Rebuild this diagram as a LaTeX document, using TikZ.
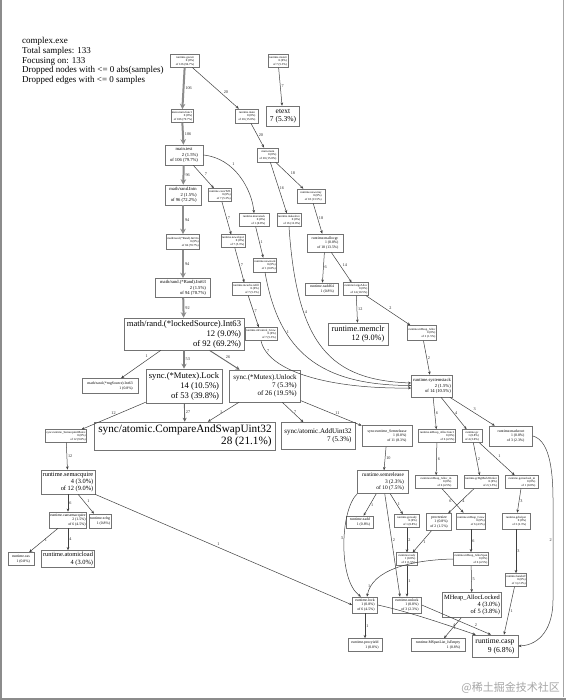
\documentclass[tikz,border=0pt]{standalone}
\usepackage{fontspec}
\setmainfont{Liberation Serif}
\newfontfamily\cjkfont{Noto Sans CJK SC}
\usetikzlibrary{arrows.meta}
\newcommand{\pplab}[2]{\begin{tabular}{@{}r@{}}\multicolumn{1}{@{}c@{}}{#1}\\#2\end{tabular}}
\tikzset{
 nd/.style={draw=black!55, line width=0.55pt, rectangle, inner sep=1pt},
 f0/.style={font=\fontsize{3}{3.5}\selectfont},
 f1/.style={font=\fontsize{3.8}{4.4}\selectfont},
 f2/.style={font=\fontsize{4.6}{5.4}\selectfont},
 ed/.style={draw=black!75, line width=0.5pt, -{Stealth[length=3.2pt,width=2.6pt]}},
 w1/.style={line width=2.0pt, draw=black!45, -{Stealth[length=5.5pt,width=5.5pt]}},
 w2/.style={line width=1.4pt, draw=black!50, -{Stealth[length=5pt,width=5pt]}},
 w3/.style={line width=0.9pt, draw=black!60, -{Stealth[length=4pt,width=4pt]}},
 lbl/.style={font=\fontsize{4.2}{4.2}\selectfont, inner sep=1pt, text=black!85},
}
\begin{document}
\begin{tikzpicture}[x=1pt,y=-1pt]
\useasboundingbox (0,0) rectangle (566,700);
\fill[white] (0,0) rectangle (566,700);
% frame
\draw[black!45, line width=2pt] (1,0) -- (1,700);
\draw[black!35, line width=1pt] (563,0) -- (563,697);
\draw[black!45, line width=2pt] (0,699) -- (566,699);
% header
\node[anchor=north west, align=left, inner sep=0pt, font=\fontsize{9}{9.8}\selectfont] (hdr) at (22,37)
 {complex.exe\\Total samples: 133\\Focusing on: 133\\Dropped nodes with <= 0 abs(samples)\\Dropped edges with <= 0 samples};
% nodes
\node[nd,f0,minimum width=29pt,minimum height=12pt] (goexit) at (185,61) {\pplab{runtime.goexit}{0 (0\%)\\of 126 (94.7\%)}};
\node[nd,f0,minimum width=16pt,minimum height=12pt] (mstart) at (278,61) {\pplab{runtime.mstart}{0 (0\%)\\of 7 (5.3\%)}};
\node[nd,f0,minimum width=22pt,minimum height=13pt] (mainfunc) at (182,116) {\pplab{main.main.func1}{0 (0\%)\\of 106 (79.7\%)}};
\node[nd,f0,minimum width=23pt,minimum height=14pt] (rtmain) at (247,116) {\pplab{runtime.main}{0 (0\%)\\of 20 (15.0\%)}};
\node[nd,minimum width=33pt,minimum height=20pt,font=\fontsize{7.5}{8.5}\selectfont] (etext) at (283,116) {\pplab{etext}{7 (5.3\%)}};
\node[nd,f2,minimum width=38pt,minimum height=20pt] (test) at (184,155) {\pplab{main.test}{2 (1.5\%)\\of 106 (79.7\%)}};
\node[nd,f0,minimum width=21pt,minimum height=14pt] (mainmain) at (268,155) {\pplab{main.main}{0 (0\%)\\of 20 (15.0\%)}};
\node[nd,f2,minimum width=36pt,minimum height=20pt] (randInt) at (183,195) {\pplab{math/rand.Intn}{2 (1.5\%)\\of 96 (72.2\%)}};
\node[nd,f0,minimum width=22pt,minimum height=13pt] (n220) at (220,195) {\pplab{runtime.convT2E}{0 (0\%)\\of 7 (5.3\%)}};
\node[nd,f0,minimum width=28pt,minimum height=14pt] (n311) at (311,196) {\pplab{runtime.newarray}{0 (0\%)\\of 18 (13.5\%)}};
\node[nd,f0,minimum width=30pt,minimum height=13pt] (n254) at (254,220) {\pplab{runtime.morestack}{0 (0\%)\\of 1 (0.8\%)}};
\node[nd,f0,minimum width=16pt,minimum height=13pt] (n289) at (289,220) {\pplab{runtime.makeslice}{0 (0\%)\\of 16 (12.0\%)}};
\node[nd,f0,minimum width=32pt,minimum height=15pt] (randIntn) at (183,242) {\pplab{math/rand.(*Rand).Int31n}{0 (0\%)\\of 94 (70.7\%)}};
\node[nd,f0,minimum width=18pt,minimum height=12pt] (n233) at (233,241) {\pplab{runtime.newobject}{0 (0\%)\\of 7 (5.3\%)}};
\node[nd,f1,minimum width=36pt,minimum height=18pt] (mallocgc) at (325,243) {\pplab{runtime.mallocgc}{1 (0.8\%)\\of 18 (13.5\%)}};
\node[nd,f0,minimum width=22pt,minimum height=14pt] (n265) at (265,265) {\pplab{runtime.newstack}{0 (0\%)\\of 1 (0.8\%)}};
\node[nd,f2,minimum width=55pt,minimum height=19pt] (int63) at (183,288) {\pplab{math/rand.(*Rand).Int63}{2 (1.5\%)\\of 94 (70.7\%)}};
\node[nd,f0,minimum width=22pt,minimum height=12pt] (n246) at (246,289) {\pplab{runtime.mcache.refill}{0 (0\%)\\of 7 (5.3\%)}};
\node[nd,f1,minimum width=33pt,minimum height=12pt] (xadd64) at (322,289) {\pplab{runtime.xadd64}{1 (0.8\%)}};
\node[nd,f0,minimum width=22pt,minimum height=12pt] (largeAlloc) at (356,289) {\pplab{runtime.largeAlloc}{0 (0\%)\\of 14 (10.5\%)}};
\node[nd,minimum width=120pt,minimum height=32pt,font=\fontsize{8.6}{10}\selectfont] (locked) at (184,334) {\pplab{math/rand.(*lockedSource).Int63}{12 (9.0\%)\\of 92 (69.2\%)}};
\node[nd,f0,minimum width=22pt,minimum height=13pt] (n261) at (261,334) {\pplab{runtime.mCentral\_Grow}{0 (0\%)\\of 7 (5.3\%)}};
\node[nd,minimum width=60pt,minimum height=22pt,font=\fontsize{8.2}{9.5}\selectfont] (memclr) at (358,334) {\pplab{runtime.memclr}{12 (9.0\%)}};
\node[nd,f0,minimum width=26pt,minimum height=15pt] (mHeapAlloc) at (422,333) {\pplab{runtime.mHeap\_Alloc}{0 (0\%)\\of 2 (1.5\%)}};
\node[nd,f1,minimum width=56pt,minimum height=15pt] (rng) at (110,386) {\pplab{math/rand.(*rngSource).Int63}{1 (0.8\%)}};
\node[nd,minimum width=76pt,minimum height=34pt,font=\fontsize{8.6}{10}\selectfont] (lock) at (184,386) {\pplab{sync.(*Mutex).Lock}{14 (10.5\%)\\of 53 (39.8\%)}};
\node[nd,minimum width=71pt,minimum height=32pt,font=\fontsize{7}{8.3}\selectfont] (unlock) at (265,386) {\pplab{sync.(*Mutex).Unlock}{7 (5.3\%)\\of 26 (19.5\%)}};
\node[nd,f2,minimum width=41pt,minimum height=22pt] (sysstack) at (432,386) {\pplab{runtime.systemstack}{2 (1.5\%)\\of 14 (10.5\%)}};
\node[nd,f0,minimum width=37pt,minimum height=12pt] (semMutex) at (66,436) {\pplab{sync.runtime\_SemacquireMutex}{0 (0\%)\\of 12 (9.0\%)}};
\node[nd,minimum width=181pt,minimum height=28pt,font=\fontsize{11.2}{12.5}\selectfont] (cas) at (185,436) {\pplab{sync/atomic.CompareAndSwapUint32}{28 (21.1\%)}};
\node[nd,minimum width=74pt,minimum height=27pt,font=\fontsize{7}{8.3}\selectfont] (add) at (318,436) {\pplab{sync/atomic.AddUint32}{7 (5.3\%)}};
\node[nd,f1,minimum width=50pt,minimum height=21pt] (semrel) at (387,436) {\pplab{sync.runtime\_Semrelease}{1 (0.8\%)\\of 11 (8.3\%)}};
\node[nd,f0,minimum width=37pt,minimum height=13pt] (a1) at (437,436) {\pplab{runtime.mHeap\_Alloc.func1}{0 (0\%)\\of 6 (4.5\%)}};
\node[nd,f0,minimum width=20pt,minimum height=13pt] (a2) at (472,436) {\pplab{runtime.gc}{1 (0.8\%)\\of 4 (3.0\%)}};
\node[nd,f1,minimum width=43pt,minimum height=20pt] (a3) at (511,436) {\pplab{runtime.markroot}{1 (0.8\%)\\of 3 (2.3\%)}};
\node[nd,minimum width=54pt,minimum height=23pt,font=\fontsize{6.4}{7.4}\selectfont] (semacquire) at (68,482) {\pplab{runtime.semacquire}{4 (3.0\%)\\of 12 (9.0\%)}};
\node[nd,minimum width=51pt,minimum height=23pt,font=\fontsize{5.4}{6.4}\selectfont] (semrelease) at (383,482) {\pplab{runtime.semrelease}{3 (2.3\%)\\of 10 (7.5\%)}};
\node[nd,f0,minimum width=42pt,minimum height=13pt] (b1) at (436,482) {\pplab{runtime.mHeap\_Alloc\_m}{0 (0\%)\\of 6 (4.5\%)}};
\node[nd,f0,minimum width=34pt,minimum height=13pt] (b2) at (481,482) {\pplab{runtime.gcBgMarkWorker}{0 (0\%)\\of 2 (1.5\%)}};
\node[nd,f0,minimum width=33pt,minimum height=13pt] (b3) at (522,482) {\pplab{runtime.gcmarkwb\_m}{0 (0\%)\\of 1 (0.8\%)}};
\node[nd,f1,minimum width=31pt,minimum height=16pt] (cansem) at (68,520) {\pplab{runtime.cansemacquire}{2 (1.5\%)\\of 6 (4.5\%)}};
\node[nd,f1,minimum width=21pt,minimum height=14pt] (xaddL) at (100,521) {\pplab{runtime.xchg}{1 (0.8\%)}};
\node[nd,f1,minimum width=27pt,minimum height=12pt] (xadd) at (360,522) {\pplab{runtime.xadd}{1 (0.8\%)}};
\node[nd,f0,minimum width=25pt,minimum height=13pt] (goready) at (407,521) {\pplab{runtime.goready}{0 (0\%)\\of 1 (0.8\%)}};
\node[nd,f1,minimum width=25pt,minimum height=17pt] (procresize) at (439,522) {\pplab{procresize}{1 (0.8\%)\\of 2 (1.5\%)}};
\node[nd,f0,minimum width=24pt,minimum height=16pt] (c2) at (471,521) {\pplab{runtime.mHeap\_Grow}{0 (0\%)\\of 6 (4.5\%)}};
\node[nd,f0,minimum width=28pt,minimum height=16pt] (c3) at (516,521) {\pplab{runtime.gchelper}{0 (0\%)\\of 3 (2.3\%)}};
\node[nd,f1,minimum width=26pt,minimum height=13pt] (rcas) at (21,559) {\pplab{runtime.cas}{1 (0.8\%)}};
\node[nd,minimum width=53pt,minimum height=17pt,font=\fontsize{6.4}{7.4}\selectfont] (atomicload) at (68,559) {\pplab{runtime.atomicload}{4 (3.0\%)}};
\node[nd,f0,minimum width=21pt,minimum height=12pt] (ready) at (407,559) {\pplab{runtime.ready}{1 (0.8\%)\\of 2 (1.5\%)}};
\node[nd,f0,minimum width=32pt,minimum height=13pt] (d2) at (471,559) {\pplab{runtime.mHeap\_AllocSpan}{0 (0\%)\\of 6 (4.5\%)}};
\node[nd,f0,minimum width=21pt,minimum height=13pt] (d3) at (516,580) {\pplab{runtime.handoff}{0 (0\%)\\of 3 (2.3\%)}};
\node[nd,f1,minimum width=25pt,minimum height=16pt] (rlock) at (365,605) {\pplab{runtime.lock}{1 (0.8\%)\\of 6 (4.5\%)}};
\node[nd,f1,minimum width=29pt,minimum height=16pt] (runlock) at (407,605) {\pplab{runtime.unlock}{1 (0.8\%)\\of 3 (2.3\%)}};
\node[nd,minimum width=59pt,minimum height=25pt,font=\fontsize{6.4}{7.4}\selectfont] (allocLocked) at (472,605) {\pplab{MHeap\_AllocLocked}{4 (3.0\%)\\of 5 (3.8\%)}};
\node[nd,f1,minimum width=34pt,minimum height=13pt] (procyield) at (365,645) {\pplab{runtime.procyield}{1 (0.8\%)}};
\node[nd,f1,minimum width=54pt,minimum height=13pt] (isEmpty) at (438,645) {\pplab{runtime.MSpanList\_IsEmpty}{1 (0.8\%)}};
\node[nd,minimum width=46pt,minimum height=22pt,font=\fontsize{7.6}{8.8}\selectfont] (casp) at (495,646) {\pplab{runtime.casp}{9 (6.8\%)}};
% watermark
\node[anchor=east, inner sep=0pt, font=\cjkfont\fontsize{11}{11}\selectfont, text=black!35] (wm) at (560,688) {@稀土掘金技术社区};
% edges
\draw[w1] (goexit) -- node[lbl,right]{106} (mainfunc);
\draw[ed] (goexit) -- node[lbl,above right,pos=0.65]{20} (rtmain);
\draw[ed] (mstart) -- node[lbl,right]{7} (etext);
\draw[w1] (mainfunc) -- node[lbl,right]{106} (test);
\draw[ed] (rtmain) -- node[lbl,right]{20} (mainmain);
\draw[w1] (test) -- node[lbl,right]{96} (randInt);
\draw[ed] (test) -- node[lbl,above right]{7} (n220);
\draw[ed] (test.east) .. controls (235,158) and (252,190) .. node[lbl,pos=0.35,above right]{1} (n254.north);
\draw[ed] (mainmain) -- node[lbl,right]{16} (n289);
\draw[ed] (mainmain) -- node[lbl,above right]{18} (n311);
\draw[ed] (n311) -- node[lbl,right]{18} (mallocgc);
\draw[w1] (randInt) -- node[lbl,right]{94} (randIntn);
\draw[ed] (n220) -- node[lbl,right]{7} (n233);
\draw[ed] (n254) -- node[lbl,right]{1} (n265);
\draw[w1] (randIntn) -- node[lbl,right]{94} (int63);
\draw[ed] (n233) -- node[lbl,right]{7} (n246);
\draw[ed] (n246) -- node[lbl,right]{7} (n261);
\draw[w1] (int63) -- node[lbl,right]{92} (locked);
\draw[ed] (mallocgc) -- node[lbl,right]{6} (xadd64);
\draw[ed] (mallocgc) -- node[lbl,above right]{14} (largeAlloc);
\draw[ed] (largeAlloc) -- node[lbl,right]{12} (memclr);
\draw[ed] (largeAlloc) -- node[lbl,above right]{2} (mHeapAlloc);
\draw[ed] (mHeapAlloc) -- node[lbl,right]{2} (sysstack);
\draw[ed] (n289.south) .. controls (297,345) and (330,380) .. node[lbl,pos=0.3,right]{4} ([yshift=3pt]sysstack.west);
\draw[ed] (n265.south) .. controls (279,352) and (320,385) .. node[lbl,pos=0.3,right]{1} ([yshift=0.5pt]sysstack.west);
\draw[ed] (n261.south) .. controls (268,372) and (330,389) .. node[lbl,pos=0.12,right]{7} ([yshift=-2pt]sysstack.west);
\draw[ed] (locked) -- node[lbl,pos=0.3,above left]{1} (rng);
\draw[w2] (locked) -- node[lbl,right]{53} (lock);
\draw[w3] (locked) -- node[lbl,above right]{26} (unlock);
\draw[ed] (lock) -- node[lbl,above]{12} (semMutex);
\draw[w3] (lock) -- node[lbl,right]{27} (cas);
\draw[ed] (unlock) -- node[lbl,left]{1} (cas);
\draw[ed] (unlock) -- node[lbl,right]{7} (add);
\draw[ed] (unlock) -- node[lbl,above,pos=0.6]{11} (semrel);
\draw[ed] (semMutex) -- node[lbl,right]{12} (semacquire);
\draw[ed] (semacquire) -- node[lbl,right]{6} (cansem);
\draw[ed] (semacquire) -- node[lbl,above right]{1} (xaddL);
\draw[ed] (semacquire.south east) -- node[lbl,above right,pos=0.47]{1} (rlock.west);
\draw[ed] (cansem) -- node[lbl,right]{1} (rcas);
\draw[ed] (cansem) -- node[lbl,right]{4} (atomicload);
\draw[ed] (semrel) -- node[lbl,right]{10} (semrelease);
\draw[ed] (semrelease) -- node[lbl,right]{1} (xadd);
\draw[ed] (semrelease) -- node[lbl,right]{1} (goready);
\draw[ed] (semrelease.south west) .. controls (340,510) and (338,580) .. node[lbl,pos=0.45,left]{3} ([xshift=-4pt]rlock.north);
\draw[ed] (semrelease) -- node[lbl,right,pos=0.45]{2} ([xshift=-7pt]runlock.north);
\draw[ed] (goready) -- node[lbl,right]{2} (ready);
\draw[ed] (procresize) -- node[lbl,right]{1} (ready);
\draw[ed] (ready) -- node[lbl,right]{1} (runlock);
\draw[ed] (sysstack) -- node[lbl,right]{6} (a1);
\draw[ed] (sysstack) -- node[lbl,right]{4} (a2);
\draw[ed] (sysstack) -- node[lbl,above right]{3} (a3);
\draw[ed] (a1) -- node[lbl,right]{6} (b1);
\draw[ed] (a2) -- node[lbl,right]{2} (b2);
\draw[ed] (a2) -- node[lbl,above right]{1} (b3);
\draw[ed] (a3.east) .. controls (548,440) and (553,465) .. (553,500) -- node[lbl,left,pos=0.4]{2} (553,600) .. controls (553,628) and (540,645) .. (casp.east);
\draw[ed] (b1) -- node[lbl,pos=0.5,left]{6} (c2);
\draw[ed] (b2) -- node[lbl,pos=0.5,right]{4} (procresize);
\draw[ed] (b3) -- node[lbl,right]{3} (c3);
\draw[ed] (c2) -- node[lbl,right]{6} (d2);
\draw[ed] (c3) -- node[lbl,right]{3} (d3);
\draw[ed] (d2) -- node[lbl,right]{5} (allocLocked);
\draw[ed] (d2.west) .. controls (410,560) and (372,570) .. node[lbl,pos=0.85,left]{1} ([xshift=2pt]rlock.north);
\draw[ed] (d3) -- node[lbl,right]{1} ([xshift=9pt]casp.north);
\draw[ed] (allocLocked) -- node[lbl,right]{1} ([xshift=6pt]isEmpty.north);
\draw[ed] (rlock) -- node[lbl,right]{1} (procyield);
\draw[ed] (rlock.east) .. controls (410,612) and (450,626) .. node[lbl,pos=0.75,above]{4} ([xshift=4pt]casp.north west);
\draw[ed] (runlock.east) -- node[lbl,above right,pos=0.75]{2} ([xshift=-4pt]casp.north);
\end{tikzpicture}
\end{document}
